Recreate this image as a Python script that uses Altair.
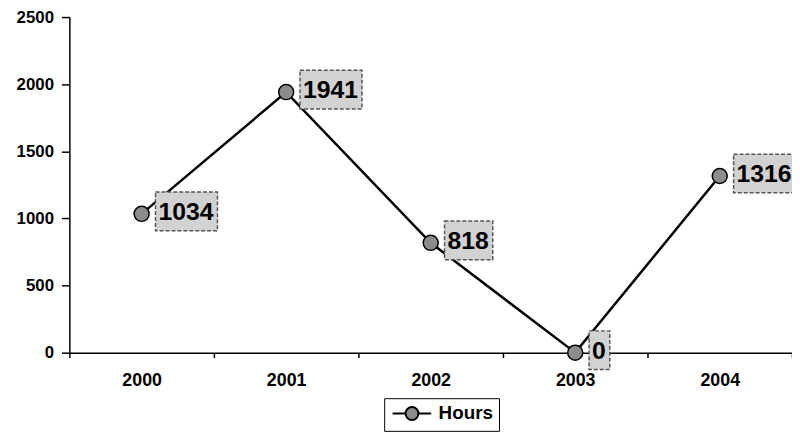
import altair as alt
import pandas as pd

years = ["2000", "2001", "2002", "2003", "2004"]
hours = [1034, 1941, 818, 0, 1316]
series_name = "Hours"
y_ticks = [0, 500, 1000, 1500, 2000, 2500]

df = pd.DataFrame({"year": years, "hours": hours})
df["series"] = series_name
df["label"] = df["hours"].astype(str)


def box_path(label):
    # label box drawn to the right of the point (pixel units with size=4)
    w = 13.9 * len(label) + 7
    x0, x1 = 14, 14 + w
    y0, y1 = -22, 17
    return f"M{x0},{y0}L{x1:.1f},{y0}L{x1:.1f},{y1}L{x0},{y1}Z"


df["box"] = df["label"].apply(box_path)

# legend glyph: short line with a circle marker (unit radius = 7px)
legend_path = ("M-1,0L0.87,0M2.73,0L4.57,0"
               "M0.87,0A0.93,0.93,0,1,0,2.73,0A0.93,0.93,0,1,0,0.87,0Z")

x_enc = alt.X(
    "year:N",
    sort=years,
    scale=alt.Scale(type="band", paddingInner=0, paddingOuter=0),
    axis=alt.Axis(
        title=None, labelAngle=0, tickBand="extent", tickSize=5,
        tickColor="black", tickWidth=1.5, domainColor="black", domainWidth=1.5,
        labelFont="Liberation Sans", labelFontSize=18, labelFontWeight="bold",
        labelColor="black", labelPadding=14,
    ),
)
y_enc = alt.Y(
    "hours:Q",
    scale=alt.Scale(domain=[0, 2500], nice=False),
    axis=alt.Axis(
        title=None, values=y_ticks, format="d", grid=False, tickSize=8,
        tickColor="black", tickWidth=1.5, domainColor="black", domainWidth=1.5,
        labelFont="Liberation Sans", labelFontSize=17, labelFontWeight="bold",
        labelColor="black", labelPadding=8,
    ),
)

base = alt.Chart(df)

line = base.mark_line(strokeWidth=2.5).encode(
    x=x_enc, y=y_enc,
    color=alt.Color(
        "series:N",
        scale=alt.Scale(range=["black"]),
        legend=alt.Legend(
            title=None, orient="none", legendX=318, legendY=385,
            strokeColor="black", fillColor="white", padding=6,
            symbolSize=196, symbolType=legend_path,
            symbolFillColor="#8c8c8c", symbolStrokeColor="black",
            symbolStrokeWidth=2, symbolOpacity=1,
            labelFont="Liberation Sans", labelFontSize=19,
            labelFontWeight="bold", labelColor="black", labelOffset=30,
        ),
    ),
)

points = base.mark_point(
    shape="circle", filled=True, size=230, fill="#8c8c8c", stroke="black",
    strokeWidth=1.5, opacity=1,
).encode(x=x_enc, y=y_enc)

boxes = base.mark_point(
    filled=True, size=4, fill="#d2d2d2", stroke="#555555", strokeWidth=1.5,
    strokeDash=[4, 2], opacity=1,
).encode(x=x_enc, y=y_enc, shape=alt.Shape("box:N", scale=None, legend=None))

texts = base.mark_text(
    align="left", baseline="middle", dx=17, dy=-2,
    font="Liberation Sans", fontSize=25,
    fontWeight="bold", color="black",
).encode(x=x_enc, y=y_enc, text="label:N")

chart = alt.layer(line, points, boxes, texts).properties(
    width=730,
    height=339,
    autosize=alt.AutoSizeParams(type="none"),
    padding={"left": 62, "top": 7, "right": 0, "bottom": 80},
).configure_view(stroke=None)

chart.save("out.html", embed_options={"renderer": "svg", "actions": False})
